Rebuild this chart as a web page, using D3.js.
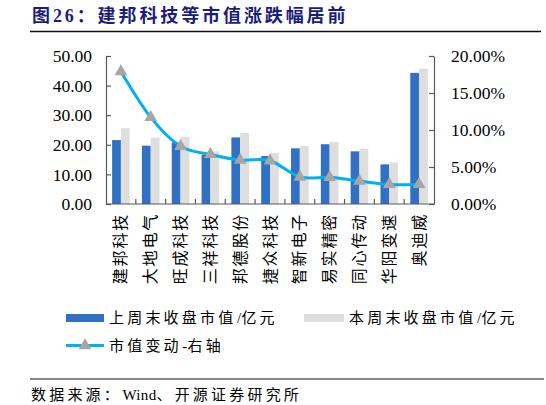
<!DOCTYPE html>
<html>
<head>
<meta charset="utf-8">
<script src="https://cdn.jsdelivr.net/npm/d3@7"></script>
<style>
html,body{margin:0;padding:0;background:#fff;}
svg{display:block;}
text{font-family:"Liberation Serif","Noto Sans CJK SC",serif;}
</style>
</head>
<body>
<svg id="chart" width="546" height="405"></svg>
<script>
const categories = ["建邦科技","大地电气","旺成科技","三祥科技","邦德股份","捷众科技","智新电子","易实精密","同心传动","华阳变速","奥迪威"];
const lastWeekCap = [21.6, 19.7, 20.8, 16.7, 22.5, 16.2, 18.8, 20.2, 17.8, 13.4, 44.3];
const thisWeekCap = [25.6, 22.4, 22.7, 17.8, 24.0, 17.2, 19.6, 21.0, 18.6, 14.0, 45.7];
const capChangePct = [17.9, 11.7, 7.8, 6.7, 5.95, 5.85, 3.65, 3.6, 3.1, 2.65, 2.65];
const leftTicks = [0, 10, 20, 30, 40, 50];
const rightTicks = [0, 5, 10, 15, 20];
const seriesNames = ["上周末收盘市值/亿元", "本周末收盘市值/亿元", "市值变动-右轴"];
const titleText = "图26：建邦科技等市值涨跌幅居前";
const sourceText = "数据来源：Wind、开源证券研究所";

const svg = d3.select("#chart");
const L = 106, R = 434, T = 56, B = 204;
const blue = "#3071C4", gray = "#DEDEDE", lineC = "#00B0F0", triC = "#A6A6A6", axisC = "#595959";

// write text where CJK chars get letter spacing but Latin runs stay tight
function spacedText(sel, str, sp) {
  const parts = str.match(/[A-Za-z0-9\/\-\.]+|[^A-Za-z0-9\/\-\.]+/g);
  parts.forEach((p) => {
    const latin = /^[A-Za-z0-9\/\-\.]+$/.test(p);
    sel.append("tspan").attr("letter-spacing", latin ? 0.3 : sp)
      .attr("dx", latin ? 0.5 : 0).text(p);
  });
}

// title
svg.append("text").attr("x", 32).attr("y", 22)
  .attr("fill", "#1c1c7c").attr("font-size", 18).attr("font-weight", "bold")
  .attr("letter-spacing", 2.9).text(titleText);
svg.append("line").attr("x1", 30).attr("x2", 541).attr("y1", 31.5).attr("y2", 31.5)
  .attr("stroke", "#111").attr("stroke-width", 1.5);

const x = d3.scaleBand().domain(categories).range([L, R]).paddingInner(0).paddingOuter(0);
const yL = d3.scaleLinear().domain([0, 50]).range([B, T]);
const yR = d3.scaleLinear().domain([0, 20]).range([B, T]);
const sub = d3.scaleBand().domain([0, 1]).range([0, 17.6]);
const barOff = (x.bandwidth() - 17.6) / 2;

const g = svg.append("g");
g.selectAll("rect.last").data(categories).join("rect")
  .attr("x", (d) => x(d) + barOff + sub(0))
  .attr("width", sub.bandwidth())
  .attr("y", (d, i) => yL(lastWeekCap[i]))
  .attr("height", (d, i) => B - yL(lastWeekCap[i]))
  .attr("fill", blue);
g.selectAll("rect.this").data(categories).join("rect")
  .attr("x", (d) => x(d) + barOff + sub(1))
  .attr("width", sub.bandwidth())
  .attr("y", (d, i) => yL(thisWeekCap[i]))
  .attr("height", (d, i) => B - yL(thisWeekCap[i]))
  .attr("fill", gray);

// axes
const leftAxis = d3.axisLeft(yL).tickValues(leftTicks).tickFormat(d3.format(".2f")).tickSizeInner(-5).tickSizeOuter(0).tickPadding(14);
const la = svg.append("g").attr("transform", `translate(${L},0)`).call(leftAxis);
la.select(".domain").attr("stroke", axisC).attr("stroke-width", 1.2);
la.selectAll(".tick line").attr("stroke", axisC).attr("stroke-width", 1.2);
la.selectAll(".tick text").attr("font-size", 17.5).attr("fill", "#000").attr("font-family", "Liberation Serif");

const rightAxis = d3.axisRight(yR).tickValues(rightTicks).tickFormat((d) => d3.format(".2f")(d) + "%").tickSizeInner(-5).tickSizeOuter(0).tickPadding(17);
const ra = svg.append("g").attr("transform", `translate(${R},0)`).call(rightAxis);
ra.select(".domain").attr("stroke", axisC).attr("stroke-width", 1.2);
ra.selectAll(".tick line").attr("stroke", axisC).attr("stroke-width", 1.2);
ra.selectAll(".tick text").attr("font-size", 17.5).attr("fill", "#000").attr("font-family", "Liberation Serif");

svg.append("line").attr("x1", L).attr("x2", R).attr("y1", B).attr("y2", B).attr("stroke", axisC).attr("stroke-width", 1.2);
const bounds = categories.slice(1).map((d) => x(d));
svg.selectAll("line.btick").data(bounds).join("line")
  .attr("x1", (d) => d).attr("x2", (d) => d).attr("y1", B).attr("y2", B - 5)
  .attr("stroke", axisC).attr("stroke-width", 1.2);

// category labels (rotated)
svg.selectAll("text.cat").data(categories).join("text")
  .attr("transform", (d) => `translate(${x(d) + x.bandwidth() / 2},213) rotate(-90)`)
  .attr("text-anchor", "end").attr("dominant-baseline", "central")
  .attr("font-size", 16).attr("letter-spacing", 1.8).attr("fill", "#000")
  .attr("font-family", "Noto Sans CJK SC")
  .text((d) => d);

// line
const pts = categories.map((d, i) => [x(d) + x.bandwidth() / 2, yR(capChangePct[i])]);
svg.append("path").attr("d", d3.line().curve(d3.curveCardinal.tension(0))(pts))
  .attr("fill", "none").attr("stroke", lineC).attr("stroke-width", 3);
const tri = d3.symbol().type(d3.symbolTriangle).size(70);
svg.selectAll("path.tri").data(pts).join("path")
  .attr("transform", (d) => `translate(${d[0]},${d[1]})`)
  .attr("d", tri).attr("fill", triC);

// legend
const lg = svg.append("g");
lg.append("rect").attr("x", 66).attr("y", 314).attr("width", 38).attr("height", 8).attr("fill", blue);
spacedText(lg.append("text").attr("x", 109).attr("y", 318).attr("dominant-baseline", "central")
  .attr("font-size", 15).attr("fill", "#000"), seriesNames[0], 3.2);
lg.append("rect").attr("x", 304).attr("y", 314).attr("width", 40).attr("height", 8).attr("fill", gray);
spacedText(lg.append("text").attr("x", 349).attr("y", 318).attr("dominant-baseline", "central")
  .attr("font-size", 15).attr("fill", "#000"), seriesNames[1], 3.2);
lg.append("line").attr("x1", 66).attr("x2", 104).attr("y1", 345.5).attr("y2", 345.5)
  .attr("stroke", lineC).attr("stroke-width", 3);
lg.append("path").attr("transform", "translate(85,345.5)").attr("d", tri).attr("fill", triC);
spacedText(lg.append("text").attr("x", 109).attr("y", 345.5).attr("dominant-baseline", "central")
  .attr("font-size", 15).attr("fill", "#000"), seriesNames[2], 3.2);

// source
svg.append("line").attr("x1", 30).attr("x2", 544).attr("y1", 379).attr("y2", 379)
  .attr("stroke", "#111").attr("stroke-width", 1);
spacedText(svg.append("text").attr("x", 31).attr("y", 395).attr("dominant-baseline", "central")
  .attr("font-size", 15).attr("fill", "#000"), sourceText, 3.2);
</script>
</body>
</html>
